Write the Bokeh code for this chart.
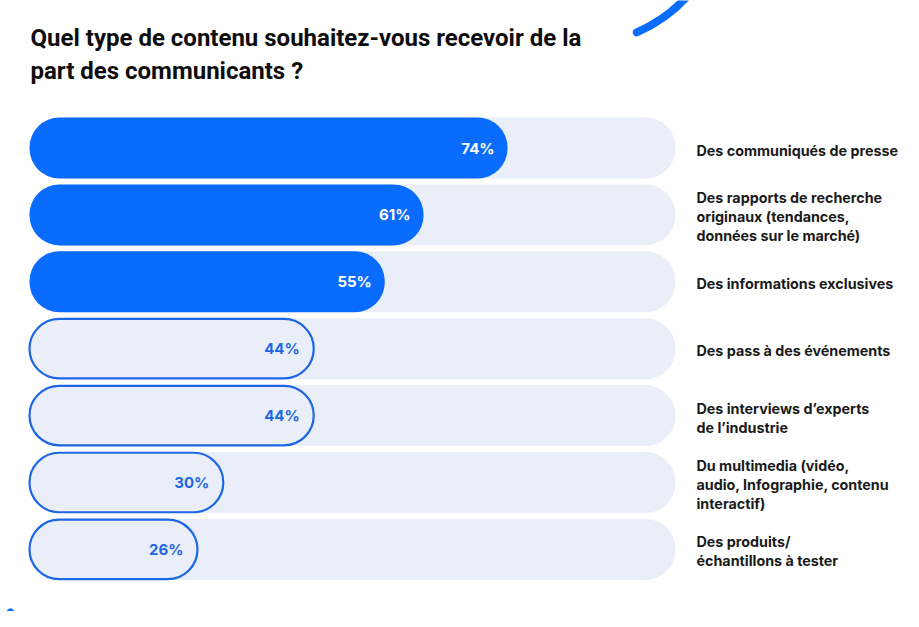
from bokeh.plotting import figure
from bokeh.models import Range1d, Label, ColumnDataSource
from bokeh.core.properties import value
from bokeh.embed import file_html
from bokeh.resources import INLINE

# ---- data ----
title_lines = [
    "Quel type de contenu souhaitez-vous recevoir de la",
    "part des communicants ?",
]
categories = [
    "Des communiqués de presse",
    "Des rapports de recherche\noriginaux (tendances,\ndonnées sur le marché)",
    "Des informations exclusives",
    "Des pass à des événements",
    "Des interviews d\u2019experts\nde l\u2019industrie",
    "Du multimedia (vidéo,\naudio, Infographie, contenu\ninteractif)",
    "Des produits/\néchantillons à tester",
]
values = [74, 61, 55, 44, 44, 30, 26]
highlighted = [True, True, True, False, False, False, False]
track_max = 100

# ---- layout (figure pixels) ----
W, H = 903, 611
X0 = 29.0          # left edge of bars
PX_PER_PCT = 6.46
ROW0 = 147.5       # centre of first row
PITCH = 66.9
BAR_H = 61.0

BLUE = "#0A6CFF"
OUT_BLUE = "#1D66E5"
TRACK = "#E9EEF8"

def fx(px):
    return (px - X0) / PX_PER_PCT

def fy(py):
    return (py - ROW0) / PITCH

rows = list(range(len(values)))
labels = [f"{v}%" for v in values]

src_hi = ColumnDataSource(dict(
    y=[r for r, h in zip(rows, highlighted) if h],
    v=[v for v, h in zip(values, highlighted) if h],
    t=[l for l, h in zip(labels, highlighted) if h],
))
src_lo = ColumnDataSource(dict(
    y=[r for r, h in zip(rows, highlighted) if not h],
    v=[v for v, h in zip(values, highlighted) if not h],
    t=[l for l, h in zip(labels, highlighted) if not h],
))
src_cat = ColumnDataSource(dict(y=rows, t=categories, x=[track_max] * len(rows)))

p = figure(width=W, height=H,
           x_range=Range1d(fx(0), fx(W)), y_range=Range1d(fy(H), fy(0)),
           output_backend="svg", toolbar_location=None,
           x_axis_location=None, y_axis_location=None,
           min_border=0, background_fill_color="white", border_fill_color="white")
p.grid.visible = False
p.outline_line_color = None

h = BAR_H / PITCH
# tracks
p.hbar(y=rows, left=0, right=track_max, height=h, fill_color=TRACK,
       line_color=None, border_radius=30)
# filled bars
p.hbar(y="y", left=0, right="v", height=h, source=src_hi, fill_color=BLUE,
       line_color=None, border_radius=30)
# outlined bars
p.hbar(y="y", left=0, right="v", height=(BAR_H - 1.5) / PITCH, source=src_lo,
       fill_color=TRACK, line_color=OUT_BLUE, line_width=2.2, border_radius=30)

# value labels
p.text(x="v", y="y", text="t", source=src_hi, x_offset=-13, text_align="right",
       text_baseline="middle", text_color="white", text_font=value("Inter"),
       text_font_style="bold", text_font_size="15px")
p.text(x="v", y="y", text="t", source=src_lo, x_offset=-14, text_align="right",
       text_baseline="middle", text_color=OUT_BLUE, text_font=value("Inter"),
       text_font_style="bold", text_font_size="15px")

# category labels
p.text(x="x", y="y", text="t", source=src_cat, x_offset=21, y_offset=2,
       text_align="left", text_baseline="middle", text_color="#1a1a1a",
       text_font=value("Inter"), text_font_style="bold", text_font_size="14.3px",
       text_line_height=1.12)

# title
for i, line in enumerate(title_lines):
    p.add_layout(Label(x=30, y=H - (37 + 33 * i), x_units="screen", y_units="screen",
                       text=line, text_baseline="middle", text_align="left",
                       text_font="Roboto", text_font_style="bold",
                       text_font_size="24px", text_color="#0d0d0d"))

# decorative strokes
p.arc(x=[fx(578)], y=[fy(-102)], radius=146, radius_units="screen",
      start_angle=-1.16, end_angle=-0.5, line_color=BLUE, line_width=8,
      line_cap="round")
p.line(x=[fx(2), fx(10)], y=[fy(622), fy(612)], line_color=BLUE, line_width=8,
       line_cap="round")

open("out.html", "w").write(file_html(p, INLINE))
